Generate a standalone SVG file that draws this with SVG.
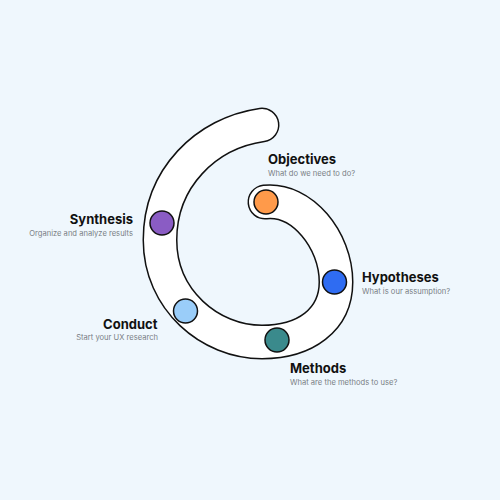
<svg xmlns="http://www.w3.org/2000/svg" width="500" height="500" viewBox="0 0 500 500">
<style>
.t{font-family:Inter,"Noto Sans",sans-serif;font-weight:700;font-size:13px;fill:#111}
.s{font-family:Inter,"Noto Sans",sans-serif;font-size:7.6px;fill:#7a7f85}
.dot{stroke:#111;stroke-width:1.5}
</style>
<rect width="500" height="500" fill="#eff7fd"/>
<g id="connectors">
<path id="spiral-outline" d="M265 202 C302 198 336 240 336 282 C336 320 305 342 262 342 C210 342 160 300 160 240 C160 178 206 133 262 125" fill="none" stroke="#111" stroke-width="35" stroke-linecap="round"/>
<path id="spiral-fill" d="M265 202 C302 198 336 240 336 282 C336 320 305 342 262 342 C210 342 160 300 160 240 C160 178 206 133 262 125" fill="none" stroke="#fff" stroke-width="32" stroke-linecap="round"/>
</g>
<g id="objectives">
<circle class="dot" cx="266" cy="202" r="12" fill="#ff9a4a"/>
<text class="t" x="268" y="163.5">Objectives</text>
<text class="s" x="268" y="175.5">What do we need to do?</text>
</g>
<g id="hypotheses">
<circle class="dot" cx="334.5" cy="282" r="12" fill="#2f6cf2"/>
<text class="t" x="362" y="282">Hypotheses</text>
<text class="s" x="362" y="293.5">What is our assumption?</text>
</g>
<g id="methods">
<circle class="dot" cx="277" cy="340" r="12" fill="#3a8a8c"/>
<text class="t" x="290" y="372.5">Methods</text>
<text class="s" x="290" y="384.5">What are the methods to use?</text>
</g>
<g id="conduct">
<circle class="dot" cx="185.5" cy="311" r="12" fill="#9acdf9"/>
<text class="t" x="157.5" y="328.5" text-anchor="end">Conduct</text>
<text class="s" x="158" y="340" text-anchor="end">Start your UX research</text>
</g>
<g id="synthesis">
<circle class="dot" cx="162" cy="223" r="12" fill="#8a5cc4"/>
<text class="t" x="133" y="223.5" text-anchor="end">Synthesis</text>
<text class="s" x="133" y="235.5" text-anchor="end">Organize and analyze results</text>
</g>
</svg>
